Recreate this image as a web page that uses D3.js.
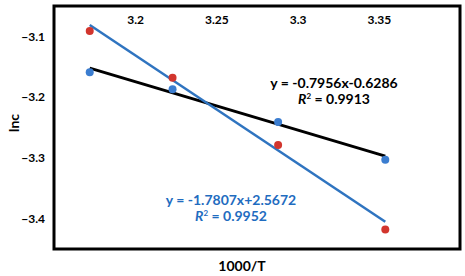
<!DOCTYPE html>
<html lang="en">
<head>
    <meta charset="UTF-8">
    <script src="https://d3js.org/d3.v7.min.js"></script>
    <title>lnc vs 1000/T</title>
    <style>
        body { margin: 0; background: #fff; }
        text { font-family: Lato, "Liberation Sans", sans-serif; font-weight: bold; }
    </style>
</head>
<body>
    <div id="chart"></div>
    <script>
// Data
const invT = [3.172, 3.223, 3.288, 3.354];
const lncBlue = [-3.159, -3.187, -3.241, -3.303];
const lncRed = [-3.091, -3.168, -3.279, -3.418];
const xTicks = [3.2, 3.25, 3.3, 3.35];
const yTicks = [-3.1, -3.2, -3.3, -3.4];
const fitBlack = { slope: -0.7956, intercept: -0.6286, label: "y = -0.7956x-0.6286", r2: "0.9913" };
const fitBlue = { slope: -1.7807, intercept: 2.5672, label: "y = -1.7807x+2.5672", r2: "0.9952" };

const W = 465, H = 276;
const plot = { left: 54, right: 460, top: 6, bottom: 249 };

const svg = d3.select("#chart").append("svg")
    .attr("width", W)
    .attr("height", H);

const x = d3.scaleLinear().domain([3.15, 3.4]).range([plot.left, plot.right]);
const y = d3.scaleLinear().domain([-3.45, -3.05]).range([plot.bottom, plot.top]);

// frame
svg.append("rect")
    .attr("x", plot.left).attr("y", plot.top)
    .attr("width", plot.right - plot.left).attr("height", plot.bottom - plot.top)
    .attr("fill", "#fff").attr("stroke", "#000").attr("stroke-width", 3);

// x axis labels sit inside the top of the frame
svg.append("g")
    .attr("transform", `translate(0,${plot.top})`)
    .call(d3.axisBottom(x).tickValues(xTicks).tickSize(0).tickPadding(9).tickFormat(d3.format("")))
    .call(g => g.select(".domain").remove())
    .selectAll("text")
    .attr("font-size", 12).attr("font-family", "Lato, sans-serif").attr("font-weight", "bold").attr("fill", "#000");

// y axis
svg.append("g")
    .attr("transform", `translate(${plot.left},0)`)
    .call(d3.axisLeft(y).tickValues(yTicks).tickSize(0).tickPadding(9).tickFormat(d3.format("")))
    .call(g => g.select(".domain").remove())
    .selectAll("text")
    .attr("font-size", 12).attr("font-family", "Lato, sans-serif").attr("font-weight", "bold").attr("fill", "#000");

// trend lines
const x0 = d3.min(invT), x1 = d3.max(invT);
[[fitBlack, "#000", 3], [fitBlue, "#2f74c0", 2.5]].forEach(([f, c, w]) => {
    svg.append("line")
        .attr("x1", x(x0)).attr("y1", y(f.slope * x0 + f.intercept))
        .attr("x2", x(x1)).attr("y2", y(f.slope * x1 + f.intercept))
        .attr("stroke", c).attr("stroke-width", w);
});

// points
svg.selectAll(".blue-pt").data(invT).enter().append("circle")
    .attr("cx", d => x(d)).attr("cy", (d, i) => y(lncBlue[i]))
    .attr("r", 4).attr("fill", "#3b7dd0");
svg.selectAll(".red-pt").data(invT).enter().append("circle")
    .attr("cx", d => x(d)).attr("cy", (d, i) => y(lncRed[i]))
    .attr("r", 4).attr("fill", "#d2352d");

// equations
function eq(f, cx, by, color) {
    svg.append("text").attr("x", cx).attr("y", by).attr("text-anchor", "middle")
        .attr("font-size", 14).attr("fill", color).text(f.label);
    const t = svg.append("text").attr("x", cx).attr("y", by + 16).attr("text-anchor", "middle")
        .attr("font-size", 14).attr("fill", color);
    t.append("tspan").attr("font-style", "italic").text("R");
    t.append("tspan").attr("font-size", 8).attr("dy", -5).text("2");
    t.append("tspan").attr("dy", 5).text(" = " + f.r2);
}
eq(fitBlack, 334, 88, "#000");
eq(fitBlue, 231, 205, "#1f6cc0");

// axis titles
svg.append("text").attr("x", 242).attr("y", 271).attr("text-anchor", "middle")
    .attr("font-size", 14).text("1000/T");
svg.append("text").attr("transform", "translate(19,123) rotate(-90)").attr("text-anchor", "middle")
    .attr("font-size", 14).text("lnc");
    </script>
</body>
</html>
